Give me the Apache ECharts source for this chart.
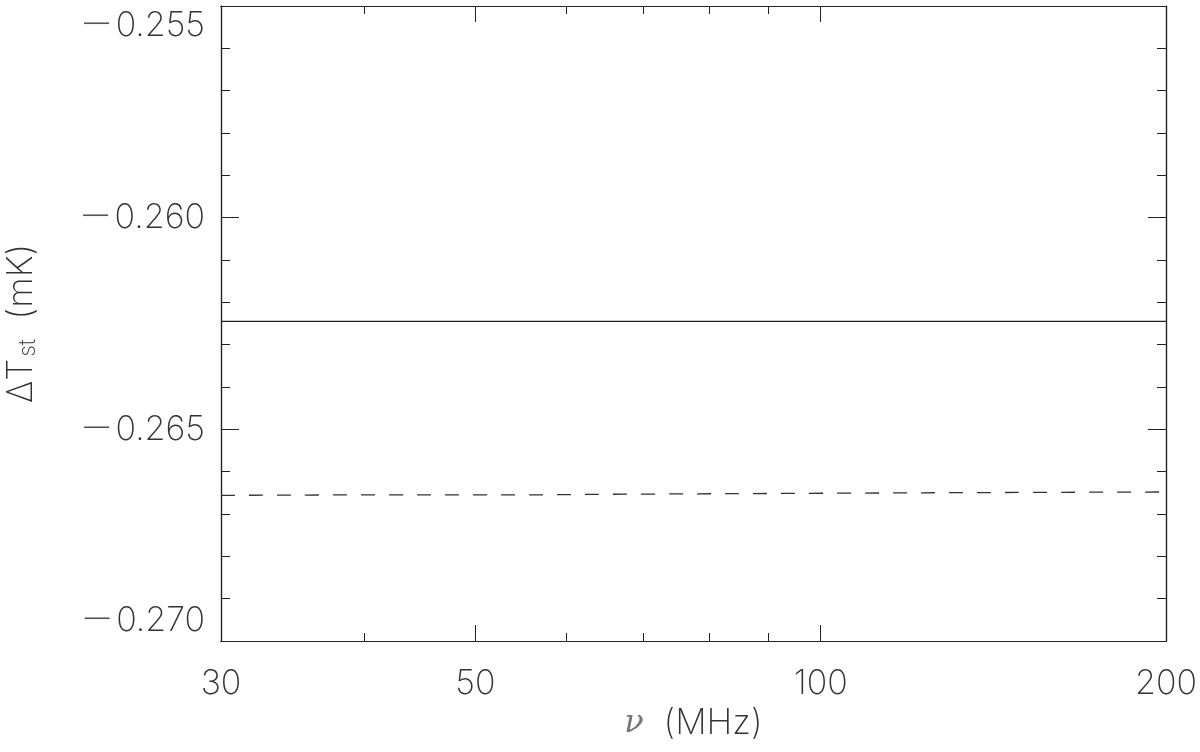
<!DOCTYPE html>
<html>
<head>
<meta charset="utf-8">
<script src="https://cdn.jsdelivr.net/npm/echarts@6/dist/echarts.min.js"></script>
<style>
    html, body { margin: 0; padding: 0; background: #fff; }
    #chart { width: 1200px; height: 752px; }
</style>
</head>
<body>
<div id="chart"></div>
<script>

// Data
var freqs = [30, 40, 50, 70, 100, 150, 200];
var solidVals = [-0.26245, -0.26245, -0.26245, -0.26245, -0.26245, -0.26245, -0.26245];
var dashedVals = [-0.26656, -0.26655, -0.26655, -0.26653, -0.26651, -0.26649, -0.26648];

// Tick labels / positions
var xLabelTicks = [30, 50, 100, 200];
var xMajorTicks = [50, 100];
var xMinorTicks = [40, 60, 70, 80, 90];

var yMin = -0.270;
var yMax = -0.255;

var pairs = function (xs, ys) {
    return xs.map(function (x, i) { return [x, ys[i]]; });
};

var chart = echarts.init(document.getElementById('chart'));

var font = 'Inter, Lato, "DejaVu Sans", sans-serif';
var thin = 200;
var ink = '#222';
var textInk = '#333';

// Log x axis builder
var xAxisOf = function (pos, ticks, len, labels) {
    return {
        type: 'log',
        logBase: 10,
        position: pos,
        min: 30,
        max: 200,
        axisLine: { show: true, onZero: false, lineStyle: { color: ink, width: 1.2 } },
        axisTick: { show: true, inside: true, length: len, customValues: ticks, lineStyle: { color: ink, width: 1 } },
        axisLabel: labels ? {
            show: true,
            customValues: xLabelTicks,
            margin: 26,
            fontFamily: font,
            fontWeight: thin,
            fontSize: 34,
            color: textInk,
            formatter: function (v) { return String(Math.round(v)); }
        } : { show: false },
        splitLine: { show: false },
        minorTick: { show: false }
    };
};

// Linear y axis builder
var yAxisOf = function (pos, step, len, labels) {
    return {
        type: 'value',
        position: pos,
        min: yMin,
        max: yMax,
        interval: step,
        axisLine: { show: true, onZero: false, lineStyle: { color: ink, width: 1.2 } },
        axisTick: { show: true, inside: true, length: len, lineStyle: { color: ink, width: 1 } },
        axisLabel: labels ? {
            show: true,
            margin: 16,
            fontFamily: font,
            fontWeight: thin,
            fontSize: 34,
            color: textInk,
            verticalAlignMinLabel: 'bottom',
            verticalAlignMaxLabel: 'top',
            formatter: function (v) {
                var s = v.toFixed(3);
                return s.charAt(0) === '-' ? '{m|\u2212}' + s.slice(1) : s;
            },
            rich: {
                m: { fontFamily: '"DejaVu Sans"', fontSize: 40, color: '#555', padding: [0, 2, 0, 0] }
            }
        } : { show: false },
        splitLine: { show: false }
    };
};

var xBottom = xAxisOf('bottom', xMajorTicks, 16, true);
xBottom.name = '{i|\u03bd}  (MHz)';
xBottom.nameLocation = 'middle';
xBottom.nameGap = 64;
xBottom.nameTextStyle = {
    fontFamily: font,
    fontWeight: thin,
    fontSize: 35,
    color: textInk,
    rich: {
        i: { fontFamily: '"DejaVu Serif", "DejaVu Sans"', fontSize: 32, fontStyle: 'italic', color: '#777' }
    }
};

var yLeft = yAxisOf('left', 0.005, 18, true);
yLeft.name = '{d|\u0394T}{s|st}{d|  (mK)}';
yLeft.nameLocation = 'middle';
yLeft.nameGap = 180;
yLeft.nameTextStyle = {
    fontFamily: font,
    fontWeight: thin,
    fontSize: 35,
    color: textInk,
    rich: {
        d: { fontFamily: font, fontWeight: thin, fontSize: 35, color: textInk, lineHeight: 40 },
        s: { fontFamily: font, fontWeight: thin, fontSize: 23, color: textInk, lineHeight: 40, padding: [14, 0, 0, 2] }
    }
};

chart.setOption({

    animation: false,

    // Plot box
    grid: {
        left: 221,
        right: 34,
        top: 6,
        bottom: 111,
        containLabel: false,
        outerBoundsMode: 'none'
    },

    xAxis: [
        xBottom,
        xAxisOf('bottom', xMinorTicks, 8, false),
        xAxisOf('top', xMajorTicks, 16, false),
        xAxisOf('top', xMinorTicks, 8, false)
    ],

    yAxis: [
        yLeft,
        yAxisOf('left', 0.001, 9, false),
        yAxisOf('right', 0.005, 18, false),
        yAxisOf('right', 0.001, 9, false)
    ],

    series: [
        {
            name: 'solid',
            type: 'line',
            xAxisIndex: 0,
            yAxisIndex: 0,
            showSymbol: false,
            symbol: 'none',
            lineStyle: { color: '#222', width: 1.2 },
            data: pairs(freqs, solidVals)
        },
        {
            name: 'dashed',
            type: 'line',
            xAxisIndex: 0,
            yAxisIndex: 0,
            showSymbol: false,
            symbol: 'none',
            smooth: true,
            lineStyle: { color: '#333', width: 1.3, type: [14, 14] },
            data: pairs(freqs, dashedVals)
        }
    ]
});

</script>
</body>
</html>
